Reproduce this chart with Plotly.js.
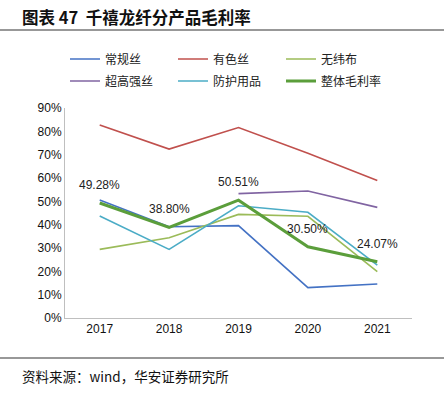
<!DOCTYPE html>
<html>
<head>
<meta charset="utf-8">
<script src="https://cdn.plot.ly/plotly-3.0.1.min.js"></script>
<style>html,body{margin:0;padding:0;background:#fff;}#chart{width:444px;height:397px;}</style>
</head>
<body>
<div id="chart"></div>
<script>
var years = ['2017', '2018', '2019', '2020', '2021'];
var changgui = [50.6, 39.1, 39.6, 13.0, 14.6];
var youse = [82.7, 72.4, 81.6, 70.6, 58.9];
var wuweibu = [29.4, 34.4, 44.4, 43.6, 19.9];
var chaogao = [null, null, 53.3, 54.4, 47.4];
var fanghu = [43.7, 29.4, 48.1, 45.3, 22.7];
var zhengti = [49.28, 38.80, 50.51, 30.50, 24.07];
var seriesNames = ['常规丝', '有色丝', '无纬布', '超高强丝', '防护用品', '整体毛利率'];
var titleText = '图表 47  千禧龙纤分产品毛利率';
var sourceText = '资料来源：wind，华安证券研究所';

var colors = ['#4472C4', '#C0504D', '#9BBB59', '#8064A2', '#4BACC6', '#5B9E3B'];
var widths = [1.6, 1.6, 1.6, 1.6, 1.6, 3];
var dataSets = [changgui, youse, wuweibu, chaogao, fanghu, zhengti];

var traces = dataSets.map(function (d, i) {
  return {
    x: years, y: d, type: 'scatter', mode: 'lines', name: seriesNames[i],
    line: {color: colors[i], width: widths[i]}, connectgaps: false,
    legend: i < 3 ? 'legend' : 'legend2'
  };
});

var annotations = zhengti.map(function (v, i) {
  return {
    x: i, y: v, xref: 'x', yref: 'y', text: v.toFixed(2) + '%',
    showarrow: false, yshift: 18, font: {family: 'Liberation Sans, Arial', size: 12, color: '#222'}
  };
});

var W = 347, H = 210;
annotations.push({
  xref: 'paper', yref: 'paper', x: -45 / W, y: (318 - 17) / H, xanchor: 'left', yanchor: 'middle',
  text: '<b>' + titleText + '</b>', showarrow: false,
  font: {family: 'Noto Sans CJK SC', size: 16.5, color: '#111'}
});
annotations.push({
  xref: 'paper', yref: 'paper', x: -45 / W, y: (318 - 376) / H, xanchor: 'left', yanchor: 'middle',
  text: sourceText, showarrow: false,
  font: {family: 'Noto Sans CJK SC', size: 13.5, color: '#111'}
});

function legendCfg(yc) {
  return {
    orientation: 'h', x: 0, xanchor: 'left', y: (318 - yc) / H, yanchor: 'middle',
    entrywidth: 63, entrywidthmode: 'pixels', traceorder: 'normal',
    font: {family: 'Noto Sans CJK SC', size: 12, color: '#222'},
    bgcolor: 'rgba(0,0,0,0)'
  };
}

var layout = {
  width: 444, height: 397,
  margin: {l: 65, r: 32, t: 108, b: 79},
  paper_bgcolor: '#fff', plot_bgcolor: '#fff',
  showlegend: true,
  legend: legendCfg(59),
  legend2: legendCfg(81),
  xaxis: {
    type: 'category', range: [-0.5, 4.5], showgrid: false, zeroline: false,
    showline: true, linecolor: '#BFBFBF', linewidth: 1, ticks: '',
    tickfont: {family: 'Liberation Sans, Arial', size: 12, color: '#111'}, fixedrange: true
  },
  yaxis: {
    range: [0, 90], dtick: 10, ticksuffix: '%', showgrid: false, zeroline: false,
    showline: true, linecolor: '#BFBFBF', linewidth: 1, ticks: '',
    tickfont: {family: 'Liberation Sans, Arial', size: 12, color: '#111'}, fixedrange: true
  },
  shapes: [
    {type: 'line', xref: 'paper', yref: 'paper', x0: -65 / W, x1: (444 - 65) / W,
     y0: (318 - 30) / H, y1: (318 - 30) / H, line: {color: '#333', width: 1.2}},
    {type: 'line', xref: 'paper', yref: 'paper', x0: -65 / W, x1: (444 - 65) / W,
     y0: (318 - 358) / H, y1: (318 - 358) / H, line: {color: '#333', width: 1.2}}
  ],
  annotations: annotations
};

Plotly.newPlot('chart', traces, layout, {displayModeBar: false, staticPlot: true});
</script>
</body>
</html>
